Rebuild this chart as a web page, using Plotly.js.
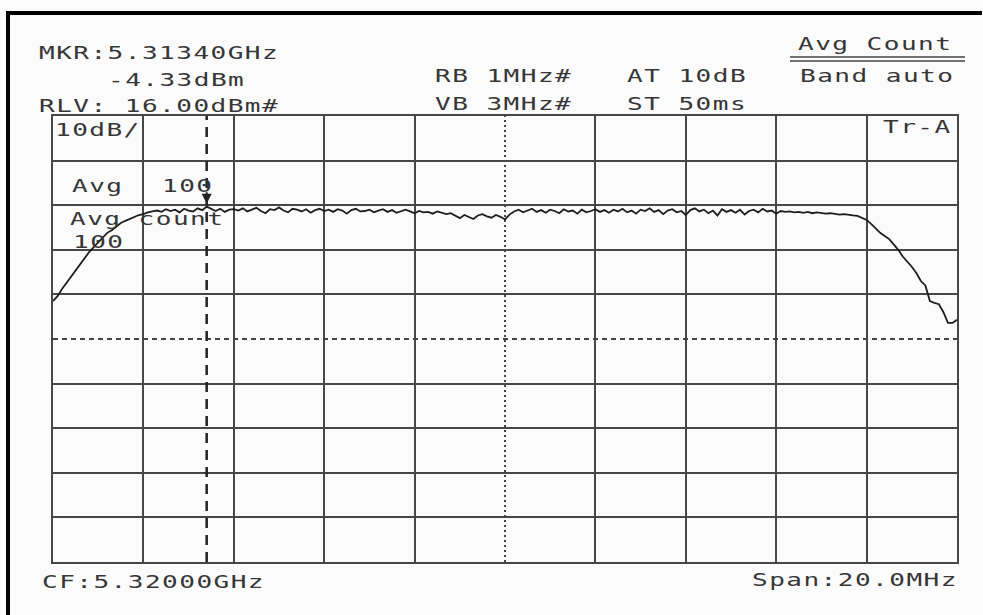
<!DOCTYPE html>
<html>
<head>
<meta charset="utf-8">
<script src="https://cdn.plot.ly/plotly-3.0.1.min.js"></script>
<style>
  html, body { margin: 0; padding: 0; background: #fbfbfb; }
  #plot { width: 983px; height: 615px; }
  /* analyzer screen font: wide, evenly spaced characters, stretched from the left edge */
  .annotation-text {
    letter-spacing: 1px;
    transform-box: fill-box;
    transform-origin: 0 50%;
    transform: scaleX(1.45);
  }
</style>
</head>
<body>
<div id="plot"></div>
<script>
// Analyzer settings
const centerFreqGHz = 5.32;
const spanMHz = 20.0;
const refLevelDbm = 16.0;
const dbPerDiv = 10;
const divisions = 10;
const markerFreqGHz = 5.3134;
const markerLevelDbm = -4.33;
const avgCount = 100;

// Averaged trace, 201 points across the span (dBm)
const levelDbm = [
  -25.5,-24.4,-22.8,-21.4,-19.9,-18.5,-17.2,-15.8,-14.5,-13.4,-12.3,-11.1,-10.2,-9.6,-8.7,-8.0,-7.5,-7.1,-6.6,-6.2,-6.0,
  -5.6,-5.4,-5.2,-5.5,-4.9,-5.3,-5.0,-5.6,-4.8,-5.2,-5.4,-4.7,-5.1,-4.33,-4.9,-5.3,-4.8,-5.5,-5.0,-4.9,
  -5.2,-4.7,-5.4,-5.0,-4.6,-5.3,-5.8,-4.9,-5.1,-4.5,-5.2,-5.6,-4.8,-5.0,-5.4,-4.9,-5.7,-5.1,-4.8,-5.3,
  -5.0,-5.5,-4.9,-5.2,-5.9,-5.1,-4.8,-5.4,-5.3,-5.0,-5.6,-5.2,-4.9,-5.5,-5.1,-5.7,-5.3,-5.0,-5.4,-5.8,
  -5.3,-5.6,-5.5,-5.9,-5.4,-5.7,-6.0,-5.8,-6.4,-6.9,-6.2,-6.6,-7.1,-6.3,-6.0,-6.5,-6.8,-6.2,-6.6,-7.2,
  -6.1,-5.4,-5.0,-5.6,-5.2,-4.8,-5.5,-5.1,-5.7,-5.0,-5.3,-5.8,-4.9,-5.4,-5.2,-5.9,-5.0,-5.6,-5.3,-4.9,
  -5.5,-5.1,-5.7,-5.0,-5.4,-4.8,-5.6,-5.2,-5.9,-5.0,-5.3,-4.7,-5.5,-5.1,-6.0,-5.2,-4.9,-5.6,-5.3,-6.2,
  -5.1,-4.7,-5.4,-5.0,-5.8,-5.2,-6.3,-4.9,-5.5,-5.1,-5.7,-5.0,-6.1,-5.3,-5.0,-5.6,-4.8,-5.4,-5.2,-5.9,
  -5.3,-5.5,-5.4,-5.6,-5.5,-5.7,-5.5,-5.8,-5.6,-5.7,-5.9,-5.8,-6.0,-6.1,-6.0,-6.2,-6.3,
  -6.4,-6.9,-7.3,-8.2,-9.3,-10.2,-10.9,-11.6,-12.8,-14.0,-15.5,-16.6,-17.8,-19.2,-21.0,-22.0,-25.5,-25.9,-26.2,-28.0,-30.4,-30.4,-29.7
];

// Screen annotations
const headerLeft = [
  'MKR:' + markerFreqGHz.toFixed(5) + 'GHz',
  markerLevelDbm.toFixed(2) + 'dBm',
  'RLV: ' + refLevelDbm.toFixed(2) + 'dBm#'
];
const bandwidthLabels = ['RB 1MHz#', 'VB 3MHz#'];
const attenSweepLabels = ['AT 10dB', 'ST 50ms'];
const modeLabels = ['Avg Count', 'Band auto'];
const scaleLabel = dbPerDiv + 'dB/';
const traceLabel = 'Tr-A';
const avgLabels = ['Avg', String(avgCount), 'Avg count', String(avgCount)];
const footerLabels = ['CF:' + centerFreqGHz.toFixed(5) + 'GHz', 'Span:' + spanMHz.toFixed(1) + 'MHz'];

// Frequency axis
const spanGHz = spanMHz / 1000;
const fStart = centerFreqGHz - spanGHz / 2;
const fStop = centerFreqGHz + spanGHz / 2;
const freqGHz = levelDbm.map((_, i) => fStart + i * spanGHz / (levelDbm.length - 1));
const bottomDbm = refLevelDbm - dbPerDiv * divisions;

// Graticule positions (centre lines are drawn dotted separately)
const xGrid = [], yGrid = [];
for (let k = 1; k < divisions; k++) {
  if (k === divisions / 2) continue;
  xGrid.push(fStart + k * spanGHz / divisions);
  yGrid.push(bottomDbm + k * dbPerDiv);
}

// Pixel helpers for the plot area (l=53, r=957, t=116, b=562)
const L = 53, R = 957, T = 116, B = 562;
const px = x => (x - L) / (R - L);
const py = y => (B - y) / (B - T);

const textFont = { family: 'DejaVu Sans Mono', size: 18, color: '#363636' };
function label(text, xPix, yPix) {
  return {
    text: text, xref: 'paper', yref: 'paper', x: px(xPix), y: py(yPix),
    xanchor: 'left', yanchor: 'middle', showarrow: false,
    font: textFont, borderpad: 0, borderwidth: 0
  };
}

const annotations = [
  label(headerLeft[0], 39, 53),
  label(headerLeft[1], 108, 79),
  label(headerLeft[2], 39, 105),
  label(bandwidthLabels[0], 435, 76),
  label(bandwidthLabels[1], 435, 103),
  label(attenSweepLabels[0], 627, 76),
  label(attenSweepLabels[1], 627, 103),
  label(modeLabels[0], 798, 43),
  label(modeLabels[1], 800, 75),
  label(scaleLabel, 55, 129),
  label(traceLabel, 883, 127),
  label(avgLabels[0], 72, 185),
  label(avgLabels[1], 162, 185),
  label(avgLabels[2], 70, 218),
  label(avgLabels[3], 73, 241),
  label(footerLabels[0], 42, 581),
  label(footerLabels[1], 752, 579),
  {
    // marker arrow
    xref: 'x', yref: 'y', x: markerFreqGHz, y: markerLevelDbm, text: '',
    showarrow: true, arrowhead: 2, arrowsize: 1, arrowwidth: 2, arrowcolor: '#222',
    ax: 0, ay: -16, standoff: 3
  }
];

const shapes = [
  // screen frame
  { type: 'line', xref: 'paper', yref: 'paper', x0: px(8), x1: px(8), y0: py(11), y1: py(615),
    line: { color: '#000', width: 4 } },
  { type: 'line', xref: 'paper', yref: 'paper', x0: px(6), x1: px(982), y0: py(13), y1: py(13),
    line: { color: '#000', width: 4 } },
  // centre graticule lines
  { type: 'line', xref: 'x', yref: 'paper', x0: centerFreqGHz, x1: centerFreqGHz, y0: 0, y1: 1,
    layer: 'below', line: { color: '#444', width: 2, dash: '2px,3px' } },
  { type: 'line', xref: 'paper', yref: 'y', x0: 0, x1: 1,
    y0: refLevelDbm - dbPerDiv * divisions / 2, y1: refLevelDbm - dbPerDiv * divisions / 2,
    layer: 'below', line: { color: '#444', width: 2, dash: '5px,4px' } },
  // marker line
  { type: 'line', xref: 'x', yref: 'paper', x0: markerFreqGHz, x1: markerFreqGHz, y0: 0, y1: 1,
    line: { color: '#222', width: 2.5, dash: '10px,7px' } },
  // double underline under the mode heading
  { type: 'line', xref: 'paper', yref: 'paper', x0: px(790), x1: px(965), y0: py(57), y1: py(57),
    line: { color: '#444', width: 1.5 } },
  { type: 'line', xref: 'paper', yref: 'paper', x0: px(790), x1: px(965), y0: py(61), y1: py(61),
    line: { color: '#444', width: 1.5 } }
];

const trace = {
  x: freqGHz, y: levelDbm, type: 'scatter', mode: 'lines',
  line: { color: '#1e1e1e', width: 1.8 }, hoverinfo: 'skip'
};

const layout = {
  width: 983, height: 615,
  margin: { l: L, r: 983 - R, t: T, b: 615 - B, pad: 0 },
  paper_bgcolor: '#fbfbfb', plot_bgcolor: '#fbfbfb',
  showlegend: false,
  xaxis: {
    range: [fStart, fStop], tickmode: 'array', tickvals: xGrid, showticklabels: false,
    ticks: '', showgrid: true, gridcolor: '#474747', gridwidth: 2, zeroline: false,
    showline: true, mirror: true, linecolor: '#474747', linewidth: 2, fixedrange: true
  },
  yaxis: {
    range: [bottomDbm, refLevelDbm], tickmode: 'array', tickvals: yGrid, showticklabels: false,
    ticks: '', showgrid: true, gridcolor: '#474747', gridwidth: 2, zeroline: false,
    showline: true, mirror: true, linecolor: '#474747', linewidth: 2, fixedrange: true
  },
  annotations: annotations,
  shapes: shapes
};

Plotly.newPlot('plot', [trace], layout, { staticPlot: true, displayModeBar: false });
</script>
</body>
</html>
